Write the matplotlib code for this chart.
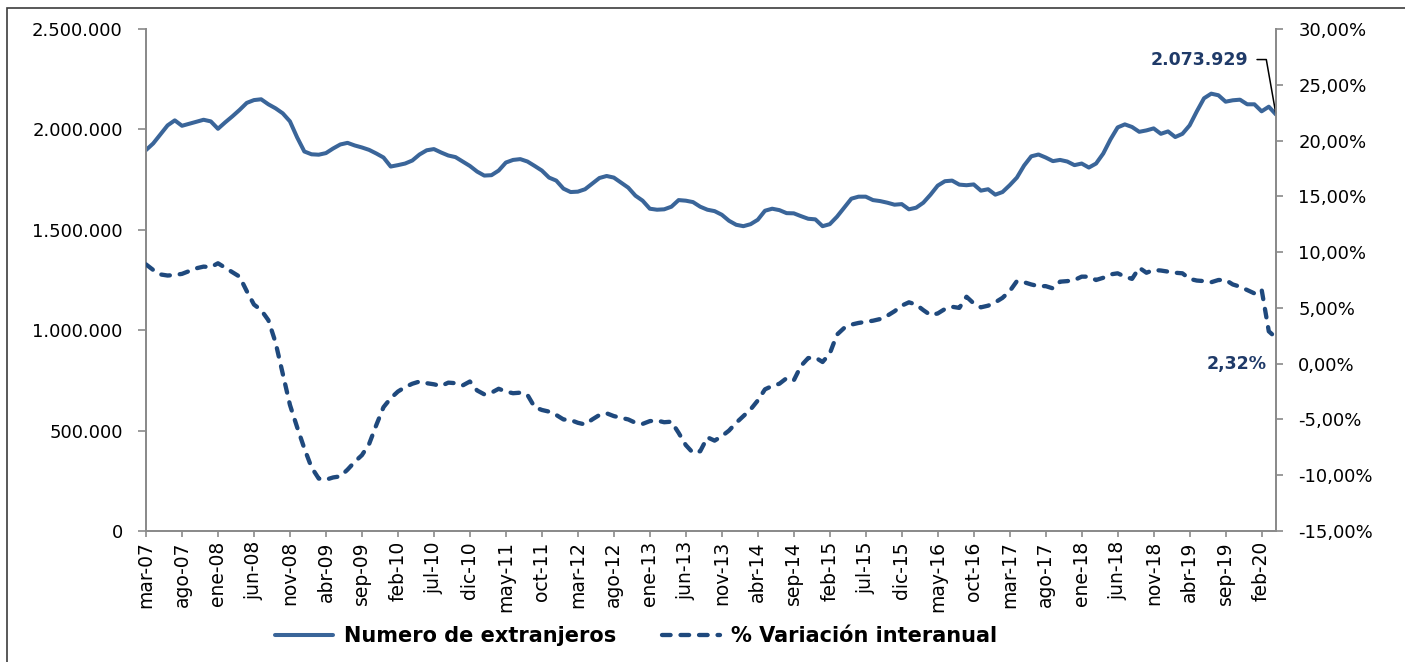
import matplotlib
matplotlib.use("Agg")
import matplotlib.pyplot as plt
from matplotlib.ticker import FuncFormatter, FixedLocator, MultipleLocator
from matplotlib.lines import Line2D
from matplotlib.patches import Rectangle

# ---------------- data ----------------
tick_labels = ["mar-07", "ago-07", "ene-08", "jun-08", "nov-08", "abr-09", "sep-09", "feb-10",
               "jul-10", "dic-10", "may-11", "oct-11", "mar-12", "ago-12", "ene-13", "jun-13",
               "nov-13", "abr-14", "sep-14", "feb-15", "jul-15", "dic-15", "may-16", "oct-16",
               "mar-17", "ago-17", "ene-18", "jun-18", "nov-18", "abr-19", "sep-19", "feb-20"]
tick_step = 5  # months between labels

# monthly number of foreigners (mar-07 ... abr-20)
extranjeros = [
    1897000, 1930000, 1975000, 2020000, 2045000, 2018000, 2028000, 2038000, 2048000, 2040000,
    2003000, 2035000, 2065000, 2097000, 2132000, 2146000, 2150000, 2125000, 2105000, 2080000,
    2040000, 1960000, 1890000, 1876000, 1874000, 1882000, 1905000, 1925000, 1933000, 1920000,
    1910000, 1898000, 1880000, 1860000, 1815000, 1822000, 1830000, 1845000, 1875000, 1896000,
    1902000, 1885000, 1870000, 1862000, 1840000, 1818000, 1790000, 1770000, 1772000, 1795000,
    1835000, 1848000, 1852000, 1840000, 1818000, 1795000, 1760000, 1745000, 1705000, 1688000,
    1690000, 1702000, 1730000, 1758000, 1768000, 1760000, 1735000, 1710000, 1670000, 1645000,
    1605000, 1600000, 1602000, 1615000, 1648000, 1645000, 1638000, 1615000, 1600000, 1593000,
    1575000, 1545000, 1525000, 1518000, 1528000, 1550000, 1595000, 1605000, 1598000, 1583000,
    1582000, 1568000, 1555000, 1552000, 1518000, 1528000, 1565000, 1610000, 1655000, 1665000,
    1665000, 1648000, 1643000, 1635000, 1625000, 1628000, 1602000, 1610000, 1635000, 1675000,
    1720000, 1742000, 1745000, 1725000, 1722000, 1726000, 1695000, 1702000, 1675000, 1688000,
    1722000, 1760000, 1820000, 1866000, 1875000, 1860000, 1842000, 1848000, 1840000, 1822000,
    1830000, 1810000, 1830000, 1880000, 1950000, 2010000, 2025000, 2012000, 1988000, 1995000,
    2005000, 1978000, 1990000, 1962000, 1978000, 2020000, 2090000, 2155000, 2178000, 2170000,
    2138000, 2145000, 2148000, 2125000, 2125000, 2090000, 2113000, 2073929,
]

# year-on-year variation (%)
variacion = [
    8.9, 8.4, 8.0, 7.9, 7.95, 8.05, 8.3, 8.55, 8.7, 8.65,
    9.0, 8.6, 8.2, 7.8, 6.5, 5.3, 4.8, 3.9, 1.9, -0.9,
    -3.7, -5.7, -7.6, -9.3, -10.3, -10.4, -10.2, -10.1, -9.5, -8.8,
    -8.2, -7.2, -5.5, -3.9, -3.1, -2.5, -2.1, -1.8, -1.6, -1.75,
    -1.85, -2.0, -1.7, -1.75, -1.95, -1.6, -2.4, -2.75, -2.6, -2.25,
    -2.5, -2.65, -2.6, -2.8, -3.9, -4.15, -4.3, -4.6, -5.0, -5.05,
    -5.3, -5.45, -5.0, -4.6, -4.45, -4.7, -4.85, -5.0, -5.3, -5.4,
    -5.15, -5.1, -5.25, -5.2, -6.2, -7.3, -8.0, -7.85, -6.6, -6.9,
    -6.5, -6.0, -5.3, -4.7, -4.1, -3.3, -2.3, -2.0, -1.8, -1.3,
    -1.5, -0.2, 0.5, 0.55, 0.15, 0.9, 2.6, 3.2, 3.5, 3.65,
    3.75, 3.85, 4.0, 4.3, 4.7, 5.2, 5.5, 5.3, 4.8, 4.35,
    4.5, 4.9, 5.1, 5.0, 6.0, 5.4, 5.05, 5.2, 5.5, 5.9,
    6.5, 7.4, 7.3, 7.1, 6.95, 6.95, 6.75, 7.35, 7.4, 7.5,
    7.8, 7.8, 7.5, 7.7, 8.0, 8.1, 7.8, 7.6, 8.6, 8.15,
    8.4, 8.35, 8.25, 8.15, 8.1, 7.6, 7.45, 7.4, 7.3, 7.5,
    7.5, 7.1, 6.9, 6.6, 6.3, 6.65, 2.9, 2.32,
]

serie1_name = "Numero de extranjeros"
serie2_name = "% Variación interanual"

# ---------------- style ----------------
W, H = 1405, 662
col_solid = "#3A6599"
col_dash = "#1F497D"
col_label = "#1F3A68"
col_spine = "#8A8A8A"

plt.rcParams["font.family"] = ["DejaVu Sans"]

fig = plt.figure(figsize=(W / 100, H / 100), dpi=100)
ax = fig.add_axes([146 / W, 1 - 531 / H, (1276 - 146) / W, (531 - 29) / H])
ax2 = ax.twinx()

x = list(range(len(extranjeros)))

ax.plot(x, extranjeros, color=col_solid, lw=2.9, solid_capstyle="round",
        solid_joinstyle="round", zorder=3)
ax2.plot(x, variacion, color=col_dash, lw=3.1, dashes=(2.0, 2.3),
         dash_capstyle="round", dash_joinstyle="round", zorder=3)

ax.set_xlim(0, len(extranjeros) - 1)
ax.set_ylim(0, 2500000)
ax.yaxis.set_major_locator(MultipleLocator(500000))
ax.yaxis.set_major_formatter(FuncFormatter(lambda v, p: f"{int(round(v)):,}".replace(",", ".")))
ax2.set_ylim(-15, 30)
ax2.yaxis.set_major_locator(MultipleLocator(5))
ax2.yaxis.set_major_formatter(FuncFormatter(lambda v, p: f"{v:.2f}%".replace(".", ",")))

tick_pos = [i * tick_step for i in range(len(tick_labels))]
ax.xaxis.set_major_locator(FixedLocator(tick_pos))
ax.set_xticklabels(tick_labels, rotation=90, fontsize=13.5)

for a in (ax, ax2):
    a.spines["top"].set_visible(False)
    for s in ("left", "right", "bottom"):
        a.spines[s].set_color(col_spine)
        a.spines[s].set_linewidth(1.3)
ax.tick_params(axis="y", length=5.8, width=1.2, color=col_spine, labelsize=13, pad=11)
ax.tick_params(axis="x", length=4.3, width=1.2, color=col_spine, pad=3)
ax2.tick_params(axis="y", length=5.0, width=1.2, color=col_spine, labelsize=13, pad=11)
ax.patch.set_visible(False)

# annotations
ax.annotate(f"{extranjeros[-1]:,}".replace(",", "."), xy=(x[-1], extranjeros[-1]),
            xytext=(-28, 55), textcoords="offset pixels", ha="right", va="center",
            fontsize=12.5, fontweight="bold", color=col_label,
            arrowprops=dict(arrowstyle="-", color="black", lw=1.1, shrinkA=4.5, shrinkB=1,
                            relpos=(1, 0.5),
                            connectionstyle="angle,angleA=0,angleB=100,rad=0"),
            zorder=5)
ax2.annotate(f"{variacion[-1]:.2f}%".replace(".", ","), xy=(x[-1], variacion[-1]),
             xytext=(-9, -26), textcoords="offset pixels", ha="right", va="center",
             fontsize=12.5, fontweight="bold", color=col_label, zorder=5)

# legend
handles = [Line2D([], [], color=col_solid, lw=2.9, solid_capstyle="round"),
           Line2D([], [], color=col_dash, lw=3.1, dashes=(2.0, 2.3), dash_capstyle="round")]
fig.legend(handles, [serie1_name, serie2_name], loc="center",
           bbox_to_anchor=(636 / W, 1 - 636 / H), ncol=2, frameon=False,
           prop=dict(weight="bold", size=15), handlelength=2.8, handletextpad=0.5,
           columnspacing=2.2)

# outer frame
fig.patches.append(Rectangle((7 / W, -0.05), 1.1, 1 - 8 / H + 0.05, transform=fig.transFigure,
                             fill=False, edgecolor="#3C3C3C", lw=1.2))

fig.savefig("out.png", dpi=100)
